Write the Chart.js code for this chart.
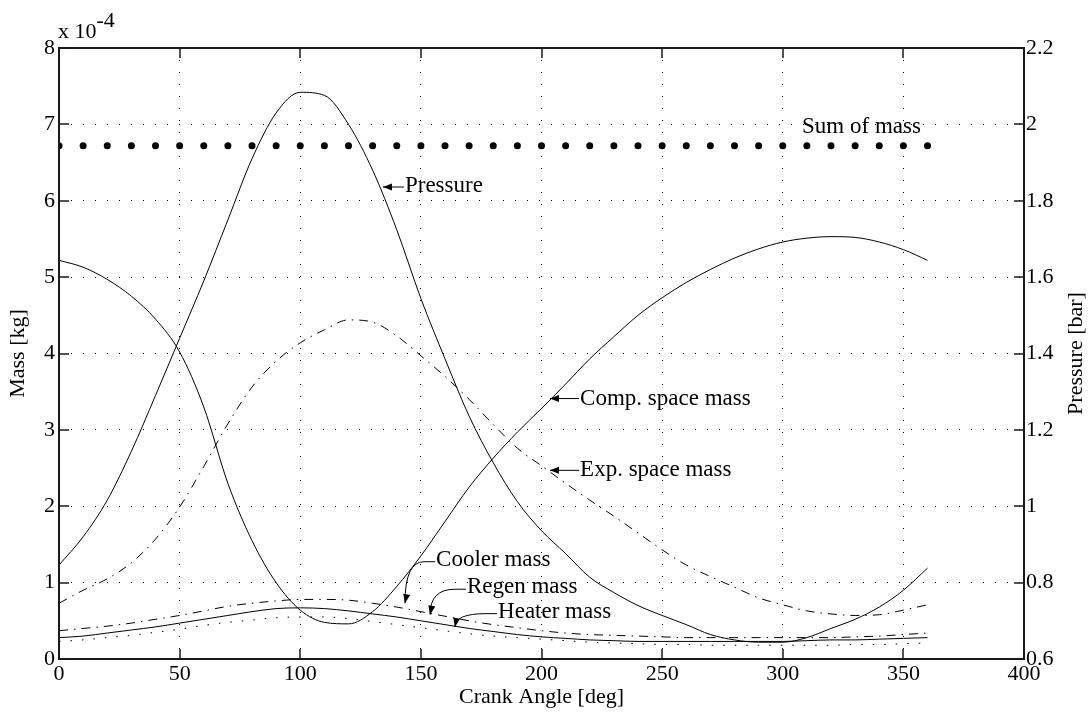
<!DOCTYPE html>
<html>
<head>
<meta charset="utf-8">
<title>Mass and pressure vs crank angle</title>
<script src="https://cdn.jsdelivr.net/npm/chart.js@4.4.0/dist/chart.umd.min.js"></script>
<style>
  body { margin: 0; background: #fff; }
  #wrap { width: 1091px; height: 716px; position: relative; }
</style>
</head>
<body>
<div id="wrap"><canvas id="chart"></canvas></div>
<script>
// Crank angle [deg]
const angles = [0,10,20,30,40,50,60,70,80,90,100,110,120,130,140,150,160,170,180,
  190,200,210,220,230,240,250,260,270,280,290,300,310,320,330,340,350,360];

// Masses, in units of 1e-4 kg (left axis)
const compMass = [5.22,5.13,4.97,4.75,4.45,4.02,3.30,2.30,1.55,1.00,0.64,0.48,0.46,0.62,0.95,1.35,1.80,2.25,2.63,
  2.97,3.28,3.60,3.93,4.22,4.50,4.73,4.93,5.10,5.25,5.37,5.46,5.51,5.53,5.52,5.46,5.36,5.22];
const expMass = [0.73,0.90,1.05,1.26,1.57,1.99,2.52,3.08,3.56,3.90,4.14,4.31,4.44,4.41,4.23,3.97,3.70,3.40,3.07,
  2.76,2.53,2.30,2.08,1.87,1.65,1.43,1.23,1.08,0.94,0.80,0.71,0.63,0.59,0.57,0.58,0.64,0.71];
const coolerMass = [0.37,0.40,0.43,0.47,0.52,0.57,0.63,0.69,0.73,0.76,0.78,0.78,0.77,0.73,0.68,0.62,0.56,0.50,0.45,
  0.41,0.37,0.34,0.32,0.31,0.30,0.29,0.28,0.28,0.28,0.28,0.28,0.28,0.28,0.29,0.30,0.32,0.34];
const regenMass = [0.28,0.30,0.34,0.38,0.42,0.47,0.52,0.57,0.62,0.66,0.67,0.66,0.63,0.59,0.55,0.50,0.45,0.40,0.36,
  0.32,0.29,0.27,0.25,0.24,0.23,0.23,0.23,0.23,0.23,0.23,0.23,0.24,0.25,0.25,0.26,0.27,0.28];
const heaterMass = [0.23,0.25,0.28,0.31,0.35,0.39,0.44,0.48,0.51,0.54,0.55,0.55,0.53,0.49,0.45,0.41,0.37,0.33,0.30,
  0.28,0.26,0.24,0.22,0.21,0.20,0.19,0.19,0.18,0.18,0.18,0.18,0.18,0.18,0.19,0.19,0.20,0.21];
const sumMass = [6.72,6.72,6.72,6.72,6.72,6.72,6.72,6.72,6.72,6.72,6.72,6.72,6.72,6.72,6.72,6.72,6.72,6.72,6.72,
  6.72,6.72,6.72,6.72,6.72,6.72,6.72,6.72,6.72,6.72,6.72,6.72,6.72,6.72,6.72,6.72,6.72,6.72];

// Pressure [bar] (right axis)
const pressure = [0.846,0.920,1.016,1.144,1.290,1.440,1.590,1.750,1.910,2.030,2.084,2.076,2.000,1.880,1.724,1.544,1.386,1.236,1.114,
  1.012,0.936,0.876,0.814,0.774,0.740,0.714,0.690,0.664,0.650,0.644,0.644,0.656,0.680,0.704,0.736,0.780,0.838];

// Tick labels
const angleTicks = [0,50,100,150,200,250,300,350,400];
const massTicks = [0,1,2,3,4,5,6,7,8];
const pressureTicks = [0.6,0.8,1.0,1.2,1.4,1.6,1.8,2.0,2.2];

// Text labels on the plot, placed in data units (deg, 1e-4 kg)
const notes = [
  { text: 'Pressure', tip: [134.3, 6.18], at: [143.4, 6.20], curved: false },
  { text: 'Comp. space mass', tip: [203.5, 3.41], at: [216, 3.41], curved: false },
  { text: 'Exp. space mass', tip: [203.5, 2.47], at: [216, 2.47], curved: false },
  { text: 'Sum of mass', tip: null, at: [308, 6.96], curved: false },
  { text: 'Cooler mass', tip: [143.4, 0.73], at: [156.3, 1.30], curved: true },
  { text: 'Regen mass', tip: [153.8, 0.58], at: [169.1, 0.94], curved: true },
  { text: 'Heater mass', tip: [164.1, 0.42], at: [182, 0.62], curved: true }
];

const serif = '"Liberation Serif", "Times New Roman", serif';
const pts = vals => angles.map((a, i) => ({ x: a, y: vals[i] }));

function arrowHead(ctx, x, y, ang) {
  const len = 9, w = 3.5;
  ctx.beginPath();
  ctx.moveTo(x, y);
  ctx.lineTo(x - len * Math.cos(ang) + w * Math.sin(ang), y - len * Math.sin(ang) - w * Math.cos(ang));
  ctx.lineTo(x - len * Math.cos(ang) - w * Math.sin(ang), y - len * Math.sin(ang) + w * Math.cos(ang));
  ctx.closePath();
  ctx.fill();
}

// Box, inward ticks, axis titles, exponent and the text labels
const decor = {
  id: 'decor',
  afterDraw(chart) {
    const { ctx, chartArea: a, scales } = chart;
    const sx = scales.x, sy = scales.y, sy2 = scales.y2;
    ctx.save();
    ctx.strokeStyle = '#1a1a1a';
    ctx.fillStyle = '#000';
    ctx.lineWidth = 2;
    ctx.strokeRect(a.left, a.top, a.right - a.left, a.bottom - a.top);

    const tl = 10;
    ctx.lineWidth = 1.5;
    ctx.beginPath();
    angleTicks.forEach(v => {
      const px = Math.round(sx.getPixelForValue(v));
      ctx.moveTo(px, a.bottom); ctx.lineTo(px, a.bottom - tl);
      ctx.moveTo(px, a.top); ctx.lineTo(px, a.top + tl);
    });
    massTicks.forEach(v => {
      const py = Math.round(sy.getPixelForValue(v));
      ctx.moveTo(a.left, py); ctx.lineTo(a.left + tl, py);
    });
    pressureTicks.forEach(v => {
      const py = Math.round(sy2.getPixelForValue(v));
      ctx.moveTo(a.right, py); ctx.lineTo(a.right - tl, py);
    });
    ctx.stroke();

    // axis titles
    ctx.font = '22px ' + serif;
    ctx.textAlign = 'center';
    ctx.textBaseline = 'middle';
    const midY = (a.top + a.bottom) / 2;
    ctx.fillText('Crank Angle [deg]', (a.left + a.right) / 2, 697);
    ctx.save();
    ctx.translate(18, midY);
    ctx.rotate(-Math.PI / 2);
    ctx.fillText('Mass [kg]', 0, 0);
    ctx.restore();
    ctx.save();
    ctx.translate(1076, midY);
    ctx.rotate(-Math.PI / 2);
    ctx.fillText('Pressure [bar]', 0, 0);
    ctx.restore();

    // exponent of the mass axis
    ctx.textAlign = 'left';
    ctx.textBaseline = 'alphabetic';
    ctx.fillText('x 10', a.left - 1, a.top - 10);
    const w10 = ctx.measureText('x 10').width;
    ctx.fillText('-4', a.left - 1 + w10, a.top - 21);

    // labels with arrows
    ctx.font = '23px ' + serif;
    ctx.textBaseline = 'middle';
    ctx.lineWidth = 1;
    ctx.strokeStyle = '#000';
    notes.forEach(n => {
      const tx = sx.getPixelForValue(n.at[0]);
      const ty = sy.getPixelForValue(n.at[1]);
      ctx.fillText(n.text, tx, ty);
      if (!n.tip) return;
      const px = sx.getPixelForValue(n.tip[0]);
      const py = sy.getPixelForValue(n.tip[1]);
      ctx.beginPath();
      if (n.curved) {
        ctx.moveTo(tx - 1, ty + 2);
        ctx.lineTo(tx - 12, ty + 2);
        ctx.quadraticCurveTo(px, ty + 2, px, py);
        ctx.stroke();
        arrowHead(ctx, px, py, Math.PI / 2 + 0.2);
      } else {
        ctx.moveTo(tx - 1, py);
        ctx.lineTo(px, py);
        ctx.stroke();
        arrowHead(ctx, px, py, Math.PI);
      }
    });
    ctx.restore();
  }
};

const tickFont = { family: serif, size: 22 };
const dashDot = [9, 6, 1.5, 6];

new Chart(document.getElementById('chart'), {
  type: 'line',
  data: {
    datasets: [
      { label: 'Pressure', data: pts(pressure), yAxisID: 'y2', borderColor: '#000' },
      { label: 'Comp. space mass', data: pts(compMass), yAxisID: 'y', borderColor: '#000' },
      { label: 'Exp. space mass', data: pts(expMass), yAxisID: 'y', borderColor: '#000', borderDash: dashDot },
      { label: 'Cooler mass', data: pts(coolerMass), yAxisID: 'y', borderColor: '#000', borderDash: dashDot },
      { label: 'Regen mass', data: pts(regenMass), yAxisID: 'y', borderColor: '#000' },
      { label: 'Heater mass', data: pts(heaterMass), yAxisID: 'y', borderColor: '#000', borderDash: [1.5, 10] },
      { label: 'Sum of mass', data: pts(sumMass), yAxisID: 'y', showLine: false,
        pointRadius: 3.5, pointBackgroundColor: '#000', pointBorderWidth: 0 }
    ]
  },
  options: {
    responsive: true,
    maintainAspectRatio: false,
    animation: false,
    layout: { padding: { top: 48, left: 0, right: 0, bottom: 0 } },
    plugins: { legend: { display: false }, tooltip: { enabled: false } },
    elements: {
      point: { radius: 0, hoverRadius: 0 },
      line: { borderWidth: 1, cubicInterpolationMode: 'monotone' }
    },
    scales: {
      x: {
        type: 'linear', min: 0, max: 400,
        afterFit: s => { s.height = 57; },
        afterBuildTicks: s => { s.ticks = angleTicks.map(v => ({ value: v })); },
        grid: { color: '#000', lineWidth: 1, drawTicks: false },
        border: { display: false, dash: [1, 11] },
        ticks: { font: tickFont, color: '#000', padding: 2, maxRotation: 0, autoSkip: false }
      },
      y: {
        type: 'linear', position: 'left', min: 0, max: 8,
        afterFit: s => { s.width = 59; },
        afterBuildTicks: s => { s.ticks = massTicks.map(v => ({ value: v })); },
        grid: { color: '#000', lineWidth: 1, drawTicks: false },
        border: { display: false, dash: [1, 11] },
        ticks: { font: tickFont, color: '#000', padding: 4 }
      },
      y2: {
        type: 'linear', position: 'right', min: 0.6, max: 2.2,
        afterFit: s => { s.width = 67; },
        afterBuildTicks: s => { s.ticks = pressureTicks.map(v => ({ value: v })); },
        grid: { display: false, drawTicks: false },
        border: { display: false },
        ticks: { font: tickFont, color: '#000', padding: 2, callback: v => String(+v.toFixed(1)) }
      }
    }
  },
  plugins: [decor]
});
</script>
</body>
</html>
